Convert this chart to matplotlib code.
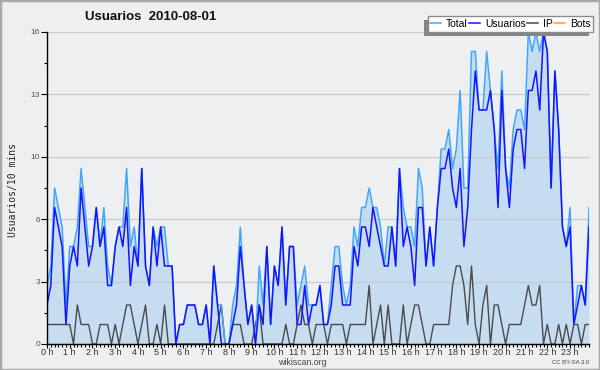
import matplotlib
matplotlib.use("Agg")
import matplotlib.pyplot as plt
import numpy as np
from matplotlib.lines import Line2D
from matplotlib.patches import Rectangle

# 10-minute slots over the day (0 .. 143)
total = [3, 4, 8, 7, 6, 2, 5, 5, 6, 9,
         7, 5, 5, 7, 5, 7, 4, 3, 5, 6,
         6, 9, 5, 6, 4, 9, 4, 3, 6, 5,
         6, 6, 4, 4, 0, 1, 1, 2, 2, 2,
         1, 1, 2, 0, 4, 2, 2, 0, 0, 2,
         3, 6, 3, 1, 2, 0, 4, 2, 5, 1,
         4, 3, 6, 2, 5, 5, 2, 3, 4, 2,
         2, 2, 3, 1, 1, 3, 5, 5, 3, 2,
         3, 6, 5, 7, 7, 8, 7, 7, 6, 4,
         6, 6, 4, 9, 7, 6, 6, 5, 9, 8,
         4, 6, 4, 7, 10, 10, 11, 9, 10, 13,
         8, 8, 15, 15, 12, 12, 15, 13, 11, 9,
         14, 9, 8, 11, 12, 12, 11, 16, 15, 16,
         15, 16, 15, 8, 14, 11, 6, 5, 7, 1,
         3, 3, 2, 7]
usuarios = [2, 3, 7, 6, 5, 1, 4, 5, 4, 8,
            6, 4, 5, 7, 5, 6, 3, 3, 5, 6,
            5, 7, 3, 5, 4, 9, 4, 3, 6, 4,
            6, 4, 4, 4, 0, 1, 1, 2, 2, 2,
            1, 1, 2, 0, 4, 2, 0, 0, 0, 1,
            2, 5, 3, 1, 2, 0, 2, 1, 5, 1,
            4, 3, 6, 2, 5, 5, 1, 1, 3, 1,
            2, 2, 3, 1, 1, 2, 4, 4, 2, 2,
            2, 5, 4, 6, 6, 5, 7, 6, 5, 4,
            4, 6, 4, 9, 5, 6, 5, 3, 7, 7,
            4, 6, 4, 7, 9, 9, 10, 8, 7, 9,
            5, 7, 11, 14, 12, 12, 12, 13, 11, 7,
            13, 9, 7, 10, 11, 11, 9, 13, 13, 14,
            12, 16, 15, 8, 14, 11, 6, 5, 6, 1,
            2, 3, 2, 6]
ip = [1, 1, 1, 1, 1, 1, 1, 0, 2, 1,
      1, 1, 0, 0, 1, 1, 1, 0, 1, 0,
      1, 2, 2, 1, 0, 1, 2, 0, 0, 1,
      0, 2, 0, 0, 0, 0, 0, 0, 0, 0,
      0, 0, 0, 0, 0, 1, 2, 0, 0, 1,
      1, 1, 0, 0, 0, 1, 2, 0, 0, 0,
      0, 0, 0, 1, 0, 0, 1, 2, 1, 1,
      0, 1, 1, 1, 0, 1, 1, 1, 1, 0,
      1, 1, 1, 1, 1, 3, 0, 1, 2, 0,
      2, 0, 0, 0, 2, 0, 1, 2, 2, 1,
      0, 0, 1, 1, 1, 1, 1, 3, 4, 4,
      3, 1, 4, 1, 0, 2, 3, 0, 2, 2,
      1, 0, 1, 1, 1, 1, 2, 3, 2, 2,
      3, 0, 1, 0, 0, 1, 0, 1, 0, 1,
      1, 0, 1, 1]
bots = [0] * 144
hour_labels = [f"{h} h" for h in range(24)]
y_ticks = [0, 3.2, 6.4, 9.6, 12.8, 16]

BG = "#eeeff1"
FONT = "Liberation Sans"

fig = plt.figure(figsize=(6, 3.7), dpi=100, facecolor=BG)
ax = fig.add_axes([47 / 600, 1 - 344 / 370, 542 / 600, 312 / 370])
ax.set_facecolor(BG)

x = np.arange(len(total))
ax.fill_between(x, 0, total, color="#c6dcf1", lw=0, zorder=0.8)
for v in y_ticks[1:]:
    ax.axhline(v, color="#c8c9cb", lw=0.9, zorder=1)
ax.plot(x, bots, color="#ffa500", lw=1.0, zorder=1.5)
ax.plot(x, ip, color="#4a4a4a", lw=1.0, zorder=2)
ax.plot(x, total, color="#40a8f8", lw=1.1, zorder=2.2)
ax.plot(x, usuarios, color="#1414ff", lw=1.1, zorder=2.4)

ax.set_xlim(0, len(total) - 1)
ax.set_ylim(0, 16)
ax.set_xticks(np.arange(0, 144, 6))
ax.set_xticklabels(hour_labels, fontsize=6.5, color="#333333", family=FONT)
ax.set_xticks(np.arange(0, 144, 1), minor=True)
ax.set_yticks(y_ticks)
ax.set_yticklabels([f"{round(v)}" for v in y_ticks], fontsize=6, color="#555555", family=FONT)
ax.set_yticks(np.arange(1.6, 16, 3.2), minor=True)
ax.tick_params(axis="y", which="major", direction="out", length=4, width=0.8, pad=1)
ax.tick_params(axis="y", which="minor", direction="out", length=2.5, width=0.8)
ax.tick_params(axis="x", which="major", direction="out", length=3, width=0.8, pad=0)
ax.tick_params(axis="x", which="minor", direction="out", length=2.2, width=0.8)
for s in ("top", "right"):
    ax.spines[s].set_visible(False)
for s in ("left", "bottom"):
    ax.spines[s].set_color("black")
    ax.spines[s].set_linewidth(1.0)

fig.text(151 / 600, 1 - 17 / 370, "Usuarios  2010-08-01", ha="center", va="center",
         fontsize=9.5, fontweight="bold", family=FONT, color="#111111")
fig.text(13 / 600, 1 - 190 / 370, "Usuarios/10 mins", rotation=90, ha="center", va="center",
         fontsize=7, family="DejaVu Sans Mono", color="#222222")
fig.text(302 / 600, 1 - 362.5 / 370, "wikiscan.org", ha="center", va="center",
         fontsize=6.3, family=FONT, color="#444444")
fig.text(589 / 600, 1 - 362.5 / 370, "CC BY-SA 3.0", ha="right", va="center",
         fontsize=4.3, family=FONT, color="#444444")

handles = [Line2D([], [], color=c, lw=1.1) for c in ("#40a8f8", "#1414ff", "#4a4a4a", "#ffa500")]
leg = fig.legend(handles, ["Total", "Usuarios", "IP", "Bots"], loc="upper right",
                 bbox_to_anchor=(593 / 600, 1 - 16.5 / 370), ncol=4, frameon=True,
                 fancybox=False, edgecolor="#8a8a8a", framealpha=1, facecolor="white",
                 prop={"family": FONT, "size": 7.5}, handlelength=1.05, handletextpad=0.45,
                 columnspacing=0.15, borderpad=0.25, borderaxespad=0)
leg.get_frame().set_linewidth(1.0)
leg.set_zorder(10)
fig.canvas.draw()
bb = leg.get_window_extent()
W, H = fig.bbox.width, fig.bbox.height
shadow = Rectangle(((bb.x0 - 4) / W, (bb.y0 - 4) / H), bb.width / W, bb.height / H,
                   transform=fig.transFigure, facecolor="#858585", edgecolor="none", zorder=9)
fig.add_artist(shadow)

border = Rectangle((0, 0), 1, 1, transform=fig.transFigure, fill=False,
                   edgecolor="#a9a9a9", lw=2.5, zorder=20)
fig.add_artist(border)

fig.savefig("out.png", dpi=100, facecolor=BG)
